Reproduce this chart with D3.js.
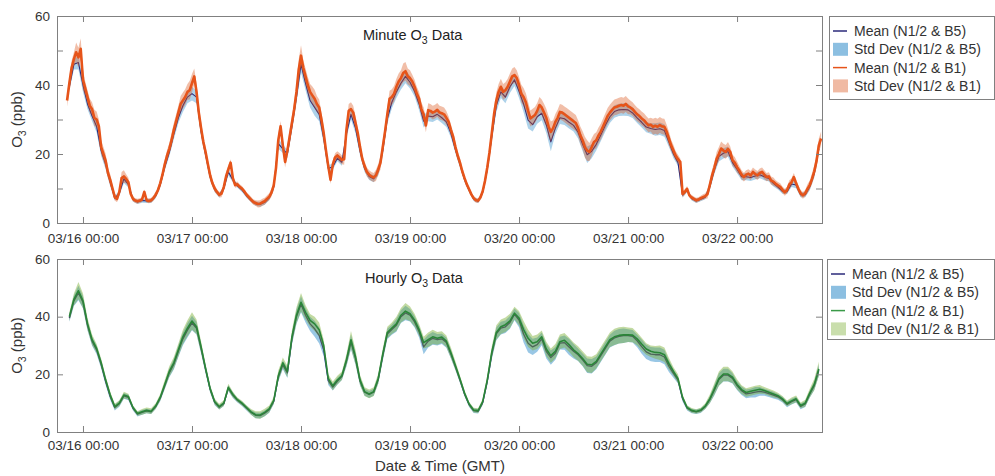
<!DOCTYPE html>
<html>
<head>
<meta charset="utf-8">
<script src="https://cdn.jsdelivr.net/npm/d3@7"></script>
<style>
  body { margin: 0; background: #fff; }
  svg { display: block; font-family: "Liberation Sans", Arial, Helvetica, sans-serif; }
</style>
</head>
<body>
<svg id="chart" width="995" height="476"></svg>
<script>
// time is in hours since 03/16 00:00 GMT
const minuteStart = -3.5;   // minute panel means, read every 30 min
const minuteStep = 0.5;
const hourlyStart = -3;     // everything else, read every hour

// Minute O3 data, mean (N1/2 & B1)
const minMeanB1 = [
  35.5, 40.5, 45, 47.5, 49.5, 48, 50.5, 41.5, 39, 36.5, 34, 33,
  30.5, 30, 28, 22, 20, 18, 14.5, 12.5, 10, 7.5, 7, 9,
  13, 13.5, 12.8, 11.8, 8.5, 7, 6.5, 6.3, 6.5, 6.8, 9, 6.6,
  6.4, 6.6, 7.2, 8.2, 9.5, 11.5, 14, 17, 19.5, 21.5, 24, 27,
  29.5, 32, 34.5, 35.5, 36.5, 38, 38.5, 40.5, 42.5, 38, 32, 27.5,
  23.5, 20.5, 17, 13.8, 11.5, 10, 9, 8.2, 8.5, 10.4, 13.5, 15.5,
  17.5, 13, 11, 11.2, 10.5, 10, 9.2, 8.2, 7.5, 6.8, 6.1, 5.8,
  5.5, 5.6, 6, 6.3, 7, 7.6, 8.8, 10.9, 16, 24, 28, 22.5,
  17.7, 21, 25, 29, 33, 38, 44.5, 48.5, 45, 42.5, 40, 38,
  37, 36, 34.5, 33.5, 30, 26, 21, 16.5, 12.5, 17, 19, 19.6,
  19, 18.3, 18.5, 27, 32.5, 33, 32, 29, 26, 22, 18.5, 16.5,
  14.8, 14, 13.5, 13.2, 13.8, 15.5, 17.5, 22, 26.5, 31.5, 36, 36.5,
  37.5, 39.5, 41, 42, 43.5, 44, 42.5, 42, 41, 39.5, 37.5, 36,
  33, 31.5, 28.3, 32.7, 32.5, 32, 32.3, 32.8, 32, 31.8, 31.5, 30.5,
  29.3, 27, 25, 22, 19.5, 17.5, 15, 13, 11.2, 9.8, 8.3, 7.2,
  6.6, 6.5, 7.4, 9.2, 12.2, 16, 20.5, 26, 31.5, 35.5, 38, 39.5,
  38, 38.5, 39.5, 41, 42.5, 42.9, 42, 40, 37.5, 36.5, 35, 32.5,
  30.3, 30.8, 31.3, 32.5, 34.2, 33.5, 32, 30.5, 28, 26.4, 27.5, 29.3,
  30.5, 32.2, 32, 31.5, 31, 30.5, 30, 29.5, 29, 27.5, 25.4, 24,
  22, 21, 20.6, 22, 23.5, 24, 25.4, 26.5, 28, 29.5, 31, 32,
  32.8, 33.5, 33.7, 34, 34.2, 34, 34.5, 33.8, 33.5, 33, 32.2, 31.5,
  31, 30.3, 29.8, 29, 28.3, 28.5, 27.9, 28.2, 27.9, 28.4, 28, 27.9,
  26.5, 24.5, 22.5, 21, 19.5, 18.5, 17.7, 8.4, 9, 9.9, 8, 7.4,
  7, 6.6, 6.8, 7.2, 7.5, 7.8, 8.4, 11, 13.8, 16, 18.6, 20,
  21.6, 21, 20.6, 21.5, 20.6, 18.2, 17.5, 16.2, 15.2, 14, 13.3, 14,
  14.3, 13.8, 14.8, 14.2, 13.8, 14.5, 14.8, 14, 13.3, 13.5, 12.3, 12,
  11.4, 10.9, 10.5, 9.6, 8.9, 9.5, 11.2, 11.8, 13.3, 11.5, 9.9, 8.6,
  8, 8.6, 9.9, 11, 12.8, 15, 18, 22.5, 24.5
];

// Minute O3 data, mean (N1/2 & B5), hourly read
const minMeanB5 = [
  39.5, 46, 46.5, 40, 34.5, 31, 28, 21, 17, 11.8, 7.2, 8.6,
  12.8, 11.2, 6.8, 6.1, 6.5, 6.4, 6.4, 7.8, 11, 16.2, 20.5, 25.8,
  30.5, 34, 36.5, 37.5, 36.5, 26.5, 19.8, 13.3, 9.7, 8, 10, 14.8,
  12.5, 10.8, 9.6, 7.9, 6.6, 5.6, 5.4, 6, 7.3, 10.4, 23, 21.5,
  20, 28, 36.5, 46, 40.5, 35.5, 33.5, 31.5, 24.5, 15.8, 16.3, 18.8,
  17.6, 25.8, 31.5, 27.5, 20.8, 15.8, 13.5, 12.8, 15, 21, 30.2, 35,
  38, 40.5, 42.5, 40.8, 38.2, 34.5, 29.5, 31, 30.8, 31.5, 30.5, 29.3,
  26, 21.2, 17, 12.6, 9.5, 7, 6.3, 8.9, 15.4, 25, 34, 38,
  36.5, 39.5, 41.5, 38.2, 34.5, 29.8, 28.5, 30.8, 31.8, 28.5, 23.5, 27.5,
  30.5, 30.2, 29.2, 28.3, 26.3, 22.8, 19.8, 20.8, 22.8, 25.5, 28.3, 30.8,
  32.3, 32.8, 32.9, 32.8, 31.9, 30.5, 29.2, 27.8, 27.4, 27.1, 27.3, 26.8,
  23.5, 20, 17.5, 8.1, 9.5, 7.1, 6.4, 6.9, 7.5, 10.5, 15.4, 19.3,
  20.2, 20.7, 17.5, 15.6, 13.4, 13.4, 13.2, 13.6, 14, 13.4, 12.9, 11.5,
  10.4, 9.2, 9.1, 11.3, 11, 8.2, 8.2, 10.5, 14.4, 21.5
];

// Minute O3 data, std dev half widths, hourly read
const minSdB1 = [
  1.8, 2, 2.8, 3, 2, 2, 2.3, 2, 2, 1.6, 1, 1,
  1.8, 1.3, 0.8, 0.7, 0.7, 0.7, 0.7, 0.8, 1, 1.3, 1.6, 2,
  2, 2.3, 2.3, 2.7, 2.3, 2, 1.6, 1.3, 1, 0.8, 1, 1.3,
  1, 0.8, 0.7, 0.7, 0.8, 0.8, 1, 1, 1, 1.2, 2, 1.6,
  1.6, 2, 2.3, 3, 2.3, 2.3, 2.6, 2.3, 2, 1.3, 1.2, 1.2,
  1.3, 1.6, 2, 2, 1.6, 1.3, 1.3, 1.3, 1.6, 2, 2, 2.3,
  2.3, 2.3, 2.7, 2.3, 2, 2, 2, 2, 2, 2, 2, 2,
  1.6, 1.3, 1.3, 1, 0.8, 0.7, 0.7, 0.8, 1.3, 2, 2.3, 2.3,
  2.3, 2.3, 2.3, 2.3, 2.6, 2.6, 2.3, 2.3, 2.3, 2.6, 3, 2.3,
  2.3, 2.3, 2.3, 2.3, 2.3, 2.6, 3, 2.6, 2.3, 2.3, 2.3, 2.3,
  2.3, 2.3, 2.3, 2.3, 2, 2, 2, 2, 2, 2.3, 2.3, 2.3,
  2, 1.6, 1.3, 1, 0.8, 0.7, 0.7, 0.7, 0.8, 1.3, 1.6, 2,
  2, 2, 1.6, 1.6, 1.3, 1.3, 1.3, 1.3, 1.3, 1.3, 1.2, 1.2,
  1, 1, 1, 1.2, 1.2, 1, 1, 1.3, 1.6, 2
];
const minSdB5 = [
  1.2, 1.5, 2, 2, 1.5, 1.5, 1.8, 1.5, 1.5, 1.2, 0.7, 0.7,
  1.2, 0.9, 0.6, 0.6, 0.6, 0.6, 0.6, 0.6, 0.7, 1, 1.2, 1.5,
  1.5, 1.8, 1.8, 2, 1.8, 1.5, 1.2, 1, 0.7, 0.6, 0.7, 1,
  0.7, 0.6, 0.6, 0.6, 0.6, 0.6, 0.7, 0.7, 0.7, 0.9, 1.5, 1.2,
  1.2, 1.5, 1.8, 2.4, 2, 2, 2.4, 2, 1.5, 1, 0.9, 0.9,
  1, 1.2, 1.5, 1.5, 1.2, 1, 1, 1, 1.2, 1.5, 1.5, 1.8,
  1.8, 1.8, 2, 1.8, 1.5, 1.8, 1.8, 1.5, 1.5, 1.5, 1.5, 1.5,
  1.2, 1, 1, 0.7, 0.6, 0.6, 0.6, 0.6, 1, 1.5, 1.8, 1.8,
  1.8, 1.8, 1.8, 2, 2.4, 2.4, 2, 2, 2, 2.4, 2.7, 1.8,
  1.8, 1.8, 1.8, 1.8, 1.8, 2, 2.4, 2, 1.8, 1.8, 1.8, 1.8,
  1.8, 1.8, 1.8, 1.8, 1.5, 1.5, 1.5, 1.5, 1.5, 1.8, 1.8, 1.8,
  1.5, 1.2, 1, 0.7, 0.6, 0.6, 0.6, 0.6, 0.6, 1, 1.2, 1.5,
  1.5, 1.5, 1.2, 1.2, 1, 1, 1, 1, 1, 1, 0.9, 0.9,
  0.7, 0.7, 0.7, 0.9, 0.9, 0.7, 0.7, 1, 1.2, 1.5
];

// Hourly O3 data
const hrMeanB1 = [
  40, 46, 49, 45.5, 37.5, 32, 29, 24, 18, 12.8, 8.8, 10,
  12.8, 12.3, 8.5, 6.4, 7, 7.5, 7.2, 9, 12, 16.5, 21, 24,
  28.5, 33, 36, 38.5, 36.5, 29.5, 22, 15, 10.5, 8.8, 10, 15.5,
  13, 11.2, 10, 8.5, 7, 6, 5.9, 6.8, 8, 11, 19.5, 24,
  21, 33, 40.5, 45, 41.5, 38.7, 37.5, 35.5, 30, 18.5, 16, 18,
  19.5, 25, 32, 26, 18, 14, 13.2, 14, 18.5, 27, 34.5, 36,
  37.5, 40.5, 41.9, 41, 38.8, 35.5, 31, 32, 33, 32.5, 32.9, 31.5,
  27.5, 23, 18.4, 13.5, 9.7, 7.6, 7.4, 10.5, 18, 27.7, 34.5, 36.5,
  37.2, 38.5, 41.2, 39.5, 35.5, 32.5, 30.8, 31.3, 33, 28.8, 26.5, 28,
  31.3, 31.8, 30.3, 28.5, 27.2, 25.5, 23.5, 23.3, 24.5, 27, 29.5, 32,
  33, 33.5, 33.7, 33.7, 33.6, 32.3, 30.5, 28.8, 28, 27.6, 27.5, 26.8,
  23.7, 21, 18.5, 12, 8.5, 7.5, 7.1, 7.6, 9, 11.5, 14.9, 18.5,
  20.1, 20.1, 19, 16.5, 14.7, 13.7, 14.1, 14.5, 14.8, 14.4, 13.8, 13.2,
  12.6, 11.5, 9.9, 10.8, 11.5, 9.2, 10, 13.5, 16.5, 21.9
];
const hrMeanB5 = [
  39.5, 45.5, 48.2, 45, 37, 31.5, 28.5, 23.5, 17.5, 12.3, 8.5, 9.8,
  12.5, 12, 8.3, 6.2, 6.8, 7.3, 7, 8.8, 11.7, 16, 20.5, 23.5,
  28, 32.3, 35.3, 37.8, 36, 29, 21.7, 14.8, 10.3, 8.6, 9.8, 15.2,
  12.8, 11, 9.8, 8.3, 6.8, 5.8, 5.7, 6.5, 7.7, 10.6, 19, 23.3,
  20.5, 32.3, 40, 44.3, 40.5, 37.5, 35.8, 33.5, 28.5, 17.8, 15.6, 17.6,
  19.2, 24.5, 31.2, 25.5, 17.6, 13.8, 13, 13.8, 18.2, 26.5, 34, 35.5,
  37, 40, 41.3, 40.5, 38.2, 34.8, 29.5, 31.5, 32.5, 32, 32.3, 31,
  27, 22.6, 18, 13.2, 9.5, 7.4, 7.2, 10.2, 17.5, 27, 34, 36,
  36.5, 38, 40.8, 38.8, 34, 30.8, 29.5, 30.3, 32.3, 28, 25.8, 27.3,
  30.8, 31, 29.5, 28, 26.8, 25, 23, 22.8, 24, 26.5, 29, 31.5,
  32.6, 33.2, 33.4, 33.4, 33.2, 31.6, 29.6, 27.8, 27, 26.8, 26.8, 26,
  22.8, 20.3, 18, 11.6, 8.3, 7.3, 7, 7.4, 8.8, 11.2, 14.5, 18.2,
  19.7, 19.7, 18.6, 16.1, 14.3, 13.2, 13.5, 13.8, 14.1, 13.8, 13.3, 12.8,
  12.2, 11.2, 9.6, 10.5, 11.2, 8.9, 9.7, 13.1, 16.1, 21.4
];
const hrSdB1 = [
  1.5, 2, 3, 2.5, 2, 1.8, 1.5, 1.5, 1.3, 1.2, 1, 1,
  1.2, 1, 0.8, 0.8, 1, 1, 1, 1, 1.2, 1.5, 1.8, 2,
  2.2, 2.5, 2.8, 3, 2.5, 2, 1.5, 1.2, 1, 1, 1, 1.2,
  1, 0.8, 0.8, 0.8, 1, 1.2, 1.3, 1.3, 1.2, 1.2, 1.8, 1.8,
  2, 2.3, 2.8, 3.2, 2.5, 2.2, 2.5, 2.5, 2, 1.5, 1.5, 1.5,
  1.5, 2, 3, 2.5, 1.8, 1.5, 1.5, 1.5, 1.8, 2, 2, 2,
  2.5, 2.5, 2.8, 2.5, 2.2, 2, 2, 2.5, 2.5, 2.2, 2, 2,
  1.8, 1.5, 1.2, 1, 0.8, 0.8, 0.8, 1, 1.5, 2, 2.5, 2.5,
  2.5, 2.5, 2.2, 2.5, 3, 3, 2.5, 2.5, 2.2, 2.5, 2.5, 2.5,
  2.5, 2.5, 2.5, 2.5, 2.5, 2.5, 2.8, 2.8, 2.5, 2.5, 2.5, 2.5,
  2.8, 2.8, 2.8, 2.5, 2.5, 2.2, 2.2, 2, 2, 2.2, 2.5, 2.5,
  2, 1.5, 1.5, 1, 0.8, 0.8, 0.8, 0.8, 1, 1.5, 2, 2.5,
  2.5, 2.5, 2, 1.8, 1.5, 1.5, 1.5, 1.5, 1.5, 1.2, 1.2, 1.2,
  1, 1, 1, 1.2, 1.2, 1, 1.2, 1.5, 2, 2.5
];
const hrSdB5 = [
  1.3, 1.8, 2.5, 2.2, 1.8, 1.6, 1.5, 1.5, 1.3, 1.2, 1, 1,
  1, 1, 0.8, 0.8, 0.8, 0.8, 0.8, 0.8, 1, 1.2, 1.5, 1.8,
  2, 2.2, 2.5, 2.5, 2.2, 1.8, 1.5, 1.2, 1, 0.8, 0.8, 1,
  1, 0.8, 0.8, 0.8, 0.8, 1, 1, 1, 1, 1, 1.5, 1.5,
  1.8, 2, 2.5, 2.8, 2.5, 2.5, 2.8, 2.8, 2.2, 1.5, 1.2, 1.2,
  1.2, 1.8, 2.5, 2.2, 1.5, 1.2, 1.2, 1.2, 1.5, 1.8, 1.8, 1.8,
  2.2, 2.2, 2.5, 2.2, 2, 2, 2.5, 2.2, 2.2, 2, 1.8, 1.8,
  1.5, 1.2, 1, 0.8, 0.8, 0.8, 0.8, 0.8, 1.2, 1.8, 2.2, 2.2,
  2.2, 2.2, 2, 2.5, 3, 3.2, 2.8, 2.5, 2.2, 2.5, 2.5, 2.2,
  2.2, 2.5, 2.8, 2.5, 2.2, 2.2, 2.5, 2.5, 2.2, 2.2, 2.2, 2.2,
  2.5, 2.5, 2.5, 2.2, 2.2, 2.2, 2.5, 2.5, 2.5, 2.5, 2.5, 2.5,
  2, 1.5, 1.2, 1, 0.8, 0.8, 0.8, 0.8, 0.8, 1.2, 1.8, 2.2,
  2.2, 2.2, 1.8, 1.5, 1.5, 1.5, 1.5, 1.8, 1.5, 1.2, 1.2, 1.2,
  1, 1, 1, 1, 1, 1, 1, 1.2, 1.5, 2
];

const tickDays = ['2016-03-16', '2016-03-17', '2016-03-18', '2016-03-19', '2016-03-20', '2016-03-21', '2016-03-22'];
const legendLabels = ['Mean (N1/2 & B5)', 'Std Dev (N1/2 & B5)', 'Mean (N1/2 & B1)', 'Std Dev (N1/2 & B1)'];

[minMeanB5, minSdB1, minSdB5, hrMeanB1, hrMeanB5, hrSdB1, hrSdB5].forEach((a, i) => {
  if (a.length !== 166) throw new Error('hourly array ' + i + ' has ' + a.length);
});
if (minMeanB1.length !== 333) throw new Error('minute array has ' + minMeanB1.length);

const svg = d3.select('#chart');
const t0 = Date.UTC(2016, 2, 16);
const toDate = h => new Date(t0 + h * 3600e3);
const x = d3.scaleUtc().domain([toDate(-5.72), toDate(162.7)]).range([57, 822]);
const tickDates = tickDays.map(d => new Date(d + 'T00:00:00Z'));
const fmt = d3.utcFormat('%m/%d %H:%M');

const axisColor = '#808080';
const textColor = '#333';

const hourly = (means, sds) => means.map((v, i) => ({ t: hourlyStart + i, v, lo: v - sds[i], hi: v + sds[i] }));
const sdAt = (sds, h) => sds[Math.max(0, Math.min(sds.length - 1, Math.round(h) - hourlyStart))];

function drawPanel(opt) {
  const g = svg.append('g');
  const y = d3.scaleLinear().domain([0, 60]).range([opt.bottom, opt.top]);

  const area = d3.area().x(d => x(toDate(d.t))).y0(d => y(d.lo)).y1(d => y(d.hi));
  const line = d3.line().x(d => x(toDate(d.t))).y(d => y(d.v));

  opt.layers.forEach(L => {
    if (L.kind === 'band') {
      g.append('path').datum(L.data).attr('d', area)
        .attr('fill', L.color).attr('fill-opacity', L.alpha);
    } else {
      g.append('path').datum(L.data).attr('d', line)
        .attr('fill', 'none').attr('stroke', L.color)
        .attr('stroke-width', L.width).attr('stroke-linejoin', 'round');
    }
  });

  // inward ticks on all four sides, like the original
  g.append('g').attr('transform', `translate(0,${opt.bottom})`)
    .call(d3.axisBottom(x).tickValues(tickDates).tickFormat(fmt).tickSize(-6).tickPadding(opt.xPad));
  g.append('g').attr('transform', `translate(0,${opt.top})`)
    .call(d3.axisTop(x).tickValues(tickDates).tickFormat('').tickSize(-6));
  g.append('g').attr('transform', 'translate(57,0)')
    .call(d3.axisLeft(y).tickValues(opt.yTicks).tickFormat(d => d % 20 === 0 ? d : '').tickSize(-6).tickPadding(7));
  g.append('g').attr('transform', 'translate(822,0)')
    .call(d3.axisRight(y).tickValues(opt.yTicks).tickFormat('').tickSize(-6));

  g.selectAll('.domain').remove();
  g.selectAll('.tick line').attr('stroke', axisColor);
  g.selectAll('.tick text').attr('fill', textColor).style('font-size', '13.5px')
    .style('font-family', '"Liberation Sans", Arial, sans-serif');

  g.append('rect')
    .attr('x', 57.5).attr('y', opt.top + 0.5)
    .attr('width', 765).attr('height', opt.bottom - opt.top)
    .attr('fill', 'none').attr('stroke', axisColor);

  // y label with subscript
  const yl = g.append('text')
    .attr('transform', `translate(22,${(opt.top + opt.bottom) / 2}) rotate(-90)`)
    .attr('text-anchor', 'middle').attr('fill', textColor).style('font-size', '15px');
  yl.append('tspan').text('O');
  yl.append('tspan').attr('dy', 4).style('font-size', '10.5px').text('3');
  yl.append('tspan').attr('dy', -4).text(' (ppb)');

  const tl = g.append('text').attr('x', opt.titleX).attr('y', opt.titleY)
    .attr('fill', '#222').style('font-size', '14.5px');
  tl.append('tspan').text(opt.title + ' O');
  tl.append('tspan').attr('dy', 4).style('font-size', '10.5px').text('3');
  tl.append('tspan').attr('dy', -4).text(' Data');

  // legend
  const lg = g.append('g');
  lg.append('rect').attr('x', opt.legX + 0.5).attr('y', opt.top + 0.5)
    .attr('width', 994 - opt.legX).attr('height', opt.legH)
    .attr('fill', '#fff').attr('stroke', axisColor);
  opt.legend.forEach((item, i) => {
    const cy = opt.top + 15 + i * 18.3;
    if (item.kind === 'band') {
      lg.append('rect').attr('x', opt.legX + 4).attr('y', cy - 6.5).attr('width', 15).attr('height', 13)
        .attr('fill', item.color).attr('fill-opacity', item.alpha);
    } else {
      lg.append('line').attr('x1', opt.legX + 4).attr('x2', opt.legX + 18).attr('y1', cy).attr('y2', cy)
        .attr('stroke', item.color).attr('stroke-width', 1.5);
    }
    lg.append('text').attr('x', opt.legX + 25).attr('y', cy).attr('dy', '0.35em')
      .attr('fill', textColor).style('font-size', '14px').text(legendLabels[i]);
  });
}

const navy = '#2b2a7a';
const blue = '#0072bd';
const orange = '#e6541a';
const salmon = '#d95319';
const green = '#2a8538';
const lightGreen = '#77ac30';

// minute panel
const minB1 = minMeanB1.map((v, i) => {
  const t = minuteStart + i * minuteStep;
  const s = sdAt(minSdB1, t);
  return { t, v, lo: v - s, hi: v + s };
});
const minB5 = hourly(minMeanB5, minSdB5);

drawPanel({
  top: 16, bottom: 223, xPad: 10, yTicks: [0, 10, 20, 30, 40, 50, 60],
  title: 'Minute', titleX: 363, titleY: 40,
  legX: 829, legH: 83,
  layers: [
    { kind: 'band', data: minB5, color: blue, alpha: 0.32 },
    { kind: 'line', data: minB5, color: navy, width: 1.1 },
    { kind: 'band', data: minB1, color: salmon, alpha: 0.38 },
    { kind: 'line', data: minB1, color: orange, width: 2.6 }
  ],
  legend: [
    { kind: 'line', color: navy },
    { kind: 'band', color: blue, alpha: 0.45 },
    { kind: 'line', color: orange },
    { kind: 'band', color: salmon, alpha: 0.4 }
  ]
});

// hourly panel
const hrB5 = hourly(hrMeanB5, hrSdB5);
const hrB1 = hourly(hrMeanB1, hrSdB1);

drawPanel({
  top: 259, bottom: 432, xPad: 8, yTicks: [0, 20, 40, 60],
  title: 'Hourly', titleX: 365, titleY: 283,
  legX: 827, legH: 80,
  layers: [
    { kind: 'band', data: hrB5, color: blue, alpha: 0.4 },
    { kind: 'line', data: hrB5, color: navy, width: 1.3 },
    { kind: 'band', data: hrB1, color: lightGreen, alpha: 0.45 },
    { kind: 'line', data: hrB1, color: green, width: 1.6 }
  ],
  legend: [
    { kind: 'line', color: navy },
    { kind: 'band', color: blue, alpha: 0.45 },
    { kind: 'line', color: '#3a9a48' },
    { kind: 'band', color: lightGreen, alpha: 0.4 }
  ]
});

svg.append('text').attr('x', 440).attr('y', 471).attr('text-anchor', 'middle')
  .attr('fill', textColor).style('font-size', '15px').text('Date & Time (GMT)');
</script>
</body>
</html>
